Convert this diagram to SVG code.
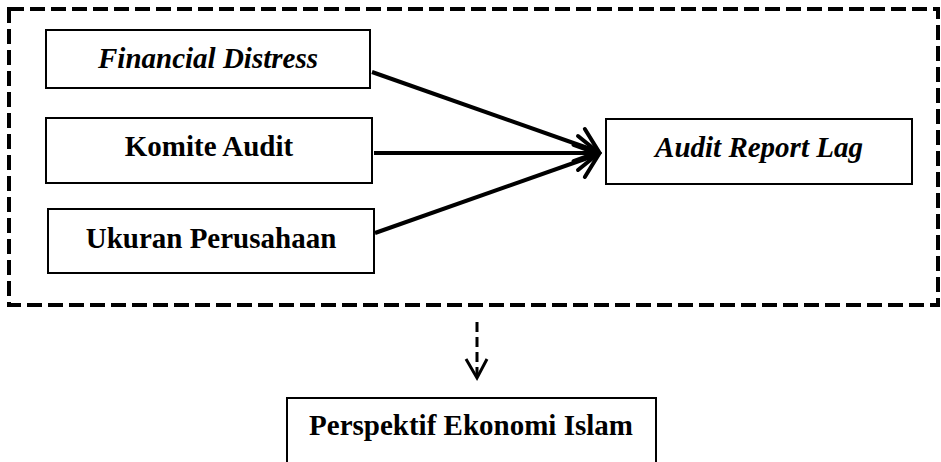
<svg xmlns="http://www.w3.org/2000/svg" width="941" height="462" viewBox="0 0 941 462">
  <style>
    .box { fill: #ffffff; stroke: #000000; stroke-width: 2; }
    .t { font-family: "Liberation Serif", "Times New Roman", serif; font-size: 29px; font-weight: bold; fill: #000000; text-anchor: middle; }
    .it { font-style: italic; }
    .conn { stroke: #000000; stroke-width: 4; fill: none; }
    .frame { fill: none; stroke: #000000; stroke-width: 4; stroke-dasharray: 15 6; }
    .dash { stroke: #000000; stroke-width: 3; fill: none; stroke-dasharray: 10 5; }
  </style>
  <defs>
    <marker id="arr" markerUnits="userSpaceOnUse" viewBox="-26 -22 30 44" refX="0" refY="0" markerWidth="30" markerHeight="44" orient="auto" overflow="visible">
      <path d="M-21,-17 L0,0 L-21,17" fill="none" stroke="#000000" stroke-width="4" stroke-linecap="round" stroke-linejoin="miter"/>
    </marker>
  </defs>
  <rect class="frame" x="9" y="9" width="929" height="296"/>
  <g id="connectors">
    <line class="conn" x1="372" y1="72" x2="599" y2="152" marker-end="url(#arr)"/>
    <line class="conn" x1="374" y1="153" x2="599" y2="153" marker-end="url(#arr)"/>
    <line class="conn" x1="375" y1="233" x2="599" y2="154" marker-end="url(#arr)"/>
    <line class="dash" x1="477" y1="322" x2="477" y2="376"/>
    <polyline points="466,359 477,378 487,359" fill="none" stroke="#000000" stroke-width="3"/>
  </g>
  <g id="node-financial">
    <rect class="box" x="46" y="30" width="324" height="58"/>
    <text class="t it" x="208" y="68">Financial Distress</text>
  </g>
  <g id="node-komite">
    <rect class="box" x="46" y="118" width="326" height="65"/>
    <text class="t" x="209" y="156">Komite Audit</text>
  </g>
  <g id="node-ukuran">
    <rect class="box" x="48" y="209" width="326" height="64"/>
    <text class="t" x="211" y="248">Ukuran Perusahaan</text>
  </g>
  <g id="node-arl">
    <rect class="box" x="606" y="119" width="306" height="65"/>
    <text class="t it" x="759" y="157">Audit Report Lag</text>
  </g>
  <g id="node-perspektif">
    <rect class="box" x="287" y="398" width="369" height="80"/>
    <text class="t" x="471" y="435">Perspektif Ekonomi Islam</text>
  </g>
</svg>
